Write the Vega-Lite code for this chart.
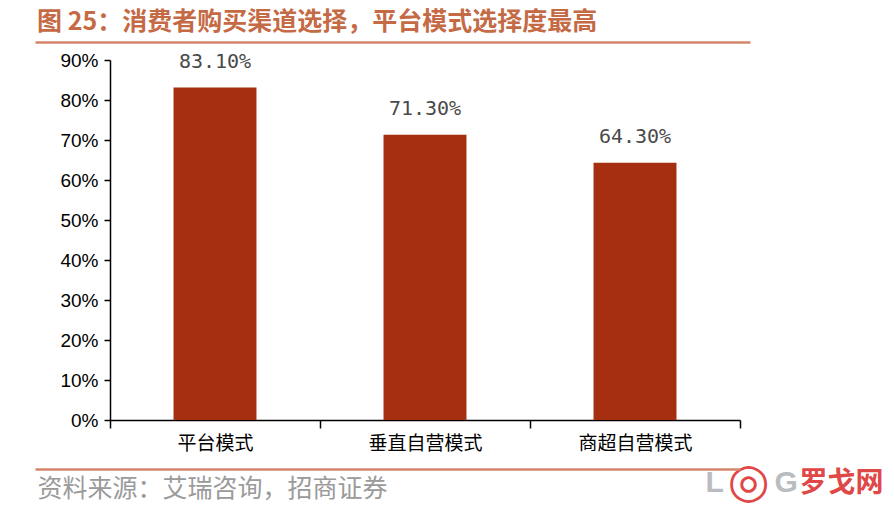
{
  "$schema": "https://vega.github.io/schema/vega-lite/v6.json",
  "width": 630,
  "height": 360,
  "autosize": "none",
  "padding": {"left": 110, "top": 60, "right": 154, "bottom": 106},
  "background": "white",
  "config": {"view": {"stroke": null}},
  "title": {
    "text": "图 25：消费者购买渠道选择，平台模式选择度最高",
    "anchor": "start",
    "frame": "group",
    "dx": -73,
    "offset": 7,
    "font": "Noto Sans CJK SC",
    "fontSize": 25,
    "fontWeight": "bold",
    "color": "#C46A45"
  },
  "data": {
    "values": [
      {"channel": "平台模式", "share": 83.1},
      {"channel": "垂直自营模式", "share": 71.3},
      {"channel": "商超自营模式", "share": 64.3}
    ]
  },
  "layer": [
    {
      "encoding": {
        "x": {
          "field": "channel", "type": "nominal", "sort": null,
          "scale": {"paddingInner": 0, "paddingOuter": 0},
          "axis": {
            "title": "资料来源：艾瑞咨询，招商证券",
            "titleAnchor": "start",
            "titleAlign": "left",
            "titleBaseline": "middle",
            "titleX": -73,
            "titleY": 68,
            "titleFont": "Noto Sans CJK SC",
            "titleFontSize": 25,
            "titleFontWeight": "normal",
            "titleColor": "#9a9a9a",
            "labelAngle": 0,
            "labelFont": "Noto Sans CJK SC",
            "labelFontSize": 19,
            "labelColor": "#000",
            "labelPadding": 6,
            "tickBand": "extent",
            "tickSize": 8,
            "tickColor": "#000",
            "tickWidth": 1.5,
            "domainColor": "#000",
            "domainWidth": 1.5
          }
        },
        "y": {
          "field": "share", "type": "quantitative",
          "scale": {"domain": [0, 90], "nice": false},
          "axis": {
            "values": [0, 10, 20, 30, 40, 50, 60, 70, 80, 90],
            "labelExpr": "datum.value + '%'",
            "grid": false,
            "labelOverlap": false,
            "title": "L",
            "titleAngle": 0,
            "titleAlign": "left",
            "titleBaseline": "middle",
            "titleX": 595,
            "titleY": 422,
            "titleFont": "Liberation Sans",
            "titleFontSize": 30,
            "titleFontWeight": "bold",
            "titleColor": "#b9bcc0",
            "labelFont": "Liberation Sans",
            "labelFontSize": 19,
            "labelColor": "#000",
            "labelPadding": 6,
            "tickSize": 6,
            "tickColor": "#000",
            "tickWidth": 1.5,
            "domainColor": "#000",
            "domainWidth": 1.5
          }
        }
      },
      "layer": [
        {
          "mark": {"type": "bar", "width": {"band": 0.395}, "color": "#A52F10"}
        },
        {
          "mark": {
            "type": "text",
            "dy": -26,
            "baseline": "middle",
            "font": "DejaVu Sans Mono",
            "fontSize": 20,
            "color": "#4a4a4a",
            "text": {"expr": "format(datum.share, '.2f') + '%'"}
          }
        }
      ]
    },
    {
      "mark": {"type": "point", "opacity": 0},
      "encoding": {
        "x": {
          "field": "share", "type": "quantitative",
          "scale": {"domain": [0, 100], "range": [-75, 640]},
          "axis": {
            "orient": "top",
            "offset": 18,
            "labels": false,
            "ticks": false,
            "grid": false,
            "domainColor": "#D4866A",
            "domainWidth": 2.5,
            "title": "◎",
            "titleAlign": "center",
            "titleBaseline": "middle",
            "titleX": 638,
            "titleY": 440,
            "titleFont": "DejaVu Sans",
            "titleFontSize": 48,
            "titleFontWeight": "normal",
            "titleColor": "#E04848"
          }
        }
      }
    },
    {
      "mark": {"type": "point", "opacity": 0},
      "encoding": {
        "x": {
          "field": "share", "type": "quantitative",
          "scale": {"domain": [0, 100], "range": [-75, 630]},
          "axis": {
            "orient": "bottom",
            "offset": 49,
            "labels": false,
            "ticks": false,
            "grid": false,
            "domainColor": "#D4866A",
            "domainWidth": 2.5,
            "title": "罗戈网",
            "titleAlign": "left",
            "titleBaseline": "middle",
            "titleX": 689,
            "titleY": 14,
            "titleFont": "Noto Sans CJK SC",
            "titleFontSize": 28,
            "titleFontWeight": "bold",
            "titleColor": "#E04848"
          }
        }
      }
    },
    {
      "mark": {"type": "point", "opacity": 0},
      "encoding": {
        "x": {
          "field": "share", "type": "quantitative",
          "scale": {"domain": [0, 100]},
          "axis": {
            "orient": "bottom",
            "domain": false,
            "labels": false,
            "ticks": false,
            "grid": false,
            "title": "G",
            "titleAlign": "left",
            "titleBaseline": "middle",
            "titleX": 664,
            "titleY": 62,
            "titleFont": "Liberation Sans",
            "titleFontSize": 30,
            "titleFontWeight": "bold",
            "titleColor": "#b9bcc0"
          }
        }
      }
    }
  ],
  "resolve": {"scale": {"x": "independent"}, "axis": {"x": "independent"}}
}
